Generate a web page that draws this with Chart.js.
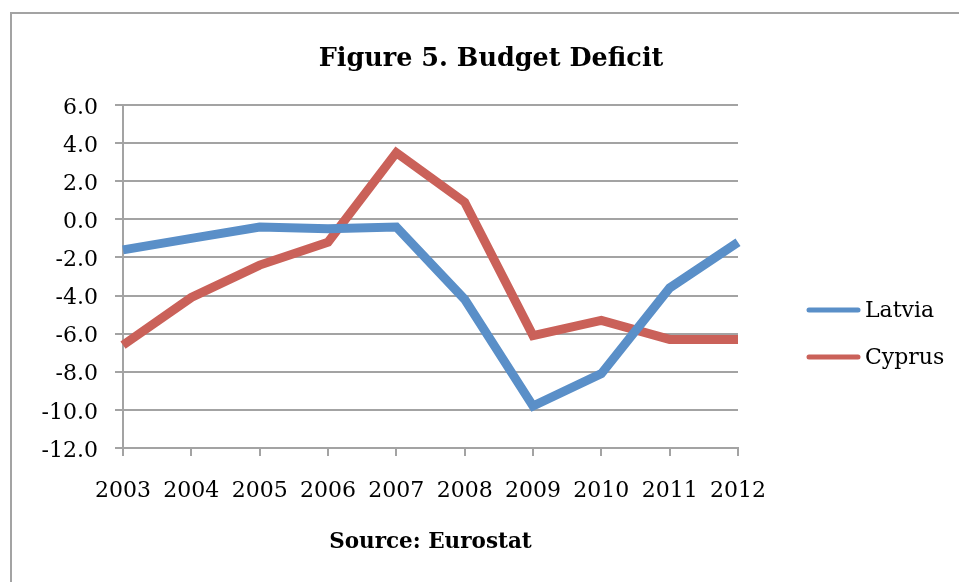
<!DOCTYPE html>
<html>
<head>
<meta charset="utf-8">
<title>Figure 5. Budget Deficit</title>
<script src="https://cdn.jsdelivr.net/npm/chart.js@4"></script>
<style>
  html, body { margin: 0; padding: 0; background: #fff; overflow: hidden; }
  #wrap { position: relative; width: 959px; height: 582px; }
</style>
</head>
<body>
<div id="wrap"><canvas id="deficitChart" width="959" height="582"></canvas></div>
<script>
// General government balance, % of GDP
const years = ['2003', '2004', '2005', '2006', '2007', '2008', '2009', '2010', '2011', '2012'];
const latvia = [-1.6, -1.0, -0.4, -0.5, -0.4, -4.2, -9.8, -8.1, -3.6, -1.2];
const cyprus = [-6.6, -4.1, -2.4, -1.2, 3.5, 0.9, -6.1, -5.3, -6.3, -6.3];
const yTickValues = [-12, -10, -8, -6, -4, -2, 0, 2, 4, 6];

const FONT = '"DejaVu Serif", serif';
const GRID = '#a3a3a3';

// frame, heading and the right-hand legend
const figureDecor = {
    id: 'figureDecor',
    beforeDraw(chart) {
        const ctx = chart.ctx;
        ctx.save();
        ctx.strokeStyle = GRID;
        ctx.lineWidth = 2;
        ctx.strokeRect(11, 13, 1000, 700);
        ctx.restore();
    },
    afterDraw(chart) {
        const ctx = chart.ctx;
        ctx.save();
        ctx.fillStyle = '#000';
        ctx.font = 'bold 25.5px ' + FONT;
        ctx.textAlign = 'center';
        ctx.textBaseline = 'alphabetic';
        ctx.fillText('Figure 5. Budget Deficit', 491, 66);

        ctx.font = '22px ' + FONT;
        ctx.textAlign = 'left';
        ctx.textBaseline = 'middle';
        chart.data.datasets.forEach((ds, i) => {
            const y = 310 + i * 47;
            ctx.strokeStyle = ds.borderColor;
            ctx.lineWidth = 5;
            ctx.lineCap = 'round';
            ctx.beginPath();
            ctx.moveTo(809, y);
            ctx.lineTo(858, y);
            ctx.stroke();
            ctx.fillText(ds.label, 865, y + 1);
        });
        ctx.restore();
    }
};

Chart.defaults.font.family = FONT;
Chart.defaults.color = '#000';

new Chart(document.getElementById('deficitChart'), {
    type: 'line',
    data: {
        labels: years,
        datasets: [
            { label: 'Latvia', data: latvia, borderColor: '#5a8fc8', backgroundColor: '#5a8fc8' },
            { label: 'Cyprus', data: cyprus, borderColor: '#ca6159', backgroundColor: '#ca6159' }
        ]
    },
    options: {
        responsive: false,
        animation: false,
        devicePixelRatio: 1,
        layout: { padding: { left: 10, right: 221, top: 105, bottom: 0 } },
        elements: {
            line: { borderWidth: 9, tension: 0 },
            point: { radius: 0, hoverRadius: 0 }
        },
        plugins: {
            legend: { display: false },
            title: { display: false },
            tooltip: { enabled: false }
        },
        scales: {
            x: {
                offset: false,
                grid: { drawOnChartArea: false, drawTicks: true, tickLength: 8, color: GRID, lineWidth: 2 },
                border: { display: true, color: GRID, width: 2 },
                ticks: { font: { size: 22 }, padding: 22, maxRotation: 0, autoSkip: false },
                title: {
                    display: true,
                    text: 'Source: Eurostat',
                    font: { size: 21.5, weight: 'bold' },
                    padding: { top: 0, bottom: 27 }
                },
                afterFit(scale) {
                    scale.height = 134;
                    scale.paddingLeft = 0;
                    scale.paddingRight = 0;
                }
            },
            y: {
                min: -12,
                max: 6,
                grid: { color: GRID, lineWidth: 2, tickLength: 8 },
                border: { display: true, color: GRID, width: 2 },
                ticks: {
                    font: { size: 22 },
                    padding: 17,
                    labelOffset: 3,
                    callback: v => v.toFixed(1)
                },
                afterBuildTicks(scale) {
                    scale.ticks = yTickValues.map(v => ({ value: v }));
                },
                afterFit(scale) {
                    scale.width = 113;
                    scale.paddingTop = 0;
                    scale.paddingBottom = 0;
                }
            }
        }
    },
    plugins: [figureDecor]
});
</script>
</body>
</html>
